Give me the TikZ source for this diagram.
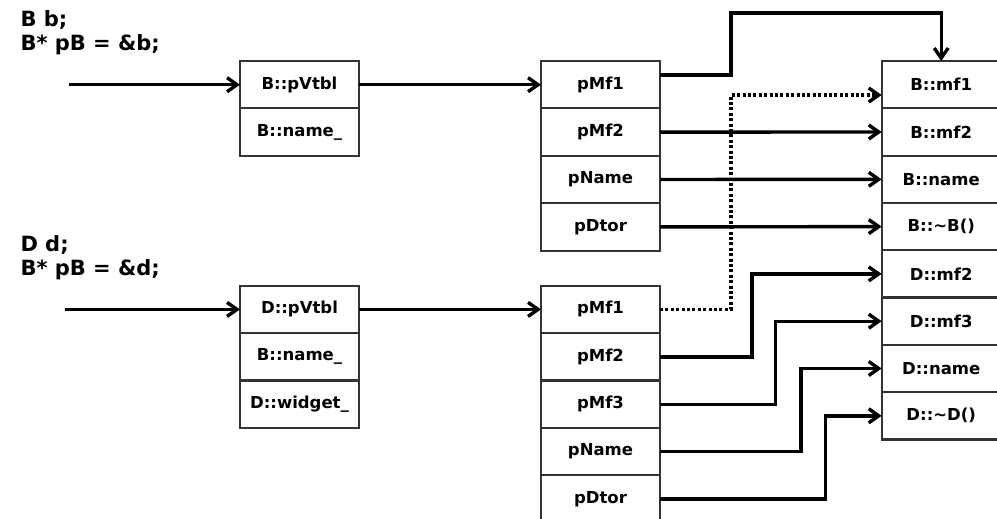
\documentclass[tikz,border=0pt]{standalone}
\usepackage{fontspec}
\setmainfont{DejaVu Sans}
\usetikzlibrary{arrows.meta}
\definecolor{boxgray}{HTML}{333333}
\begin{document}
\begin{tikzpicture}[x=1pt,y=-1pt,
  cell/.style={draw=boxgray,line width=2.2pt,minimum width=119pt,minimum height=47.4pt,
    inner sep=0pt,outer sep=0pt,font=\fontsize{16.5}{18}\selectfont\bfseries},
  hdr/.style={anchor=base west,inner sep=0pt,outer sep=0pt,font=\fontsize{21}{24}\selectfont\bfseries},
  arr/.style={line width=3.4pt,-{Straight Barb[length=10pt,width=14pt]}},
  dotarr/.style={line width=3.6pt,dash pattern=on 3pt off 2.4pt,-{Straight Barb[length=10pt,width=14pt,line width=3.4pt]}}]
\useasboundingbox (0,0) rectangle (997,519);
% headers
\node[hdr] (hb1) at (20.5,26.7) {B b;};
\node[hdr] (hb2) at (20.5,50.5) {B* pB = \&b;};
\node[hdr] (hd1) at (20.5,251.7) {D d;};
\node[hdr] (hd2) at (20.5,275.3) {B* pB = \&d;};
% object B
\node[cell] (bvt) at (299.5,84.7) {B::pVtbl};
\node[cell] (bnm) at (299.5,132.1) {B::name\_};
% object D
\node[cell] (dvt) at (299.5,309.4) {D::pVtbl};
\node[cell] (dnm) at (299.5,356.8) {B::name\_};
\node[cell] (dwg) at (299.5,404.2) {D::widget\_};
% vtable B
\node[cell] (bpm1) at (600.5,84.7) {pMf1};
\node[cell] (bpm2) at (600.5,132.1) {pMf2};
\node[cell] (bpn)  at (600.5,179.5) {pName};
\node[cell] (bpd)  at (600.5,226.9) {pDtor};
% vtable D
\node[cell] (dpm1) at (600.5,309.4) {pMf1};
\node[cell] (dpm2) at (600.5,356.8) {pMf2};
\node[cell] (dpm3) at (600.5,404.2) {pMf3};
\node[cell] (dpn)  at (600.5,451.6) {pName};
\node[cell] (dpd)  at (600.5,499.0) {pDtor};
% functions
\node[cell] (rbmf1) at (941.2,84.7) {B::mf1};
\node[cell] (rbmf2) at (941.2,132.0) {B::mf2};
\node[cell] (rbnm)  at (941.2,179.3) {B::name};
\node[cell] (rbdt)  at (941.2,226.6) {B::\textasciitilde B()};
\node[cell] (rdmf2) at (941.2,273.9) {D::mf2};
\node[cell] (rdmf3) at (941.2,321.2) {D::mf3};
\node[cell] (rdnm)  at (941.2,368.5) {D::name};
\node[cell] (rddt)  at (941.2,415.8) {D::\textasciitilde D()};
% coordinates
\coordinate (inB) at (69,84.7);
\coordinate (inD) at (65,309.4);
\coordinate (j1) at (731,13);
\coordinate (j2) at (731,95);
\coordinate (k1) at (752,0);
\coordinate (k2) at (775.5,0);
\coordinate (k3) at (801,0);
\coordinate (k4) at (825.5,0);
% connectors
\draw[arr] (inB) -- (bvt.west);
\draw[arr] (inD) -- (dvt.west);
\draw[arr] (bvt.east) -- (bpm1.west);
\draw[arr] (dvt.east) -- (dpm1.west);
\draw[arr] ([yshift=9.7pt]bpm1.east) -| (j1) -| (rbmf1.north);
\draw[arr] (bpm2.east) -- (rbmf2.west);
\draw[arr] (bpn.east) -- (rbnm.west);
\draw[arr] (bpd.east) -- (rbdt.west);
\draw[dotarr] (dpm1.east) -| (j2) -- (j2 -| rbmf1.west);
\draw[arr] (dpm2.east) -| (k1 |- rdmf2.west) -- (rdmf2.west);
\draw[arr] (dpm3.east) -| (k2 |- rdmf3.west) -- (rdmf3.west);
\draw[arr] (dpn.east) -| (k3 |- rdnm.west) -- (rdnm.west);
\draw[arr] (dpd.east) -| (k4 |- rddt.west) -- (rddt.west);
\end{tikzpicture}
\end{document}
